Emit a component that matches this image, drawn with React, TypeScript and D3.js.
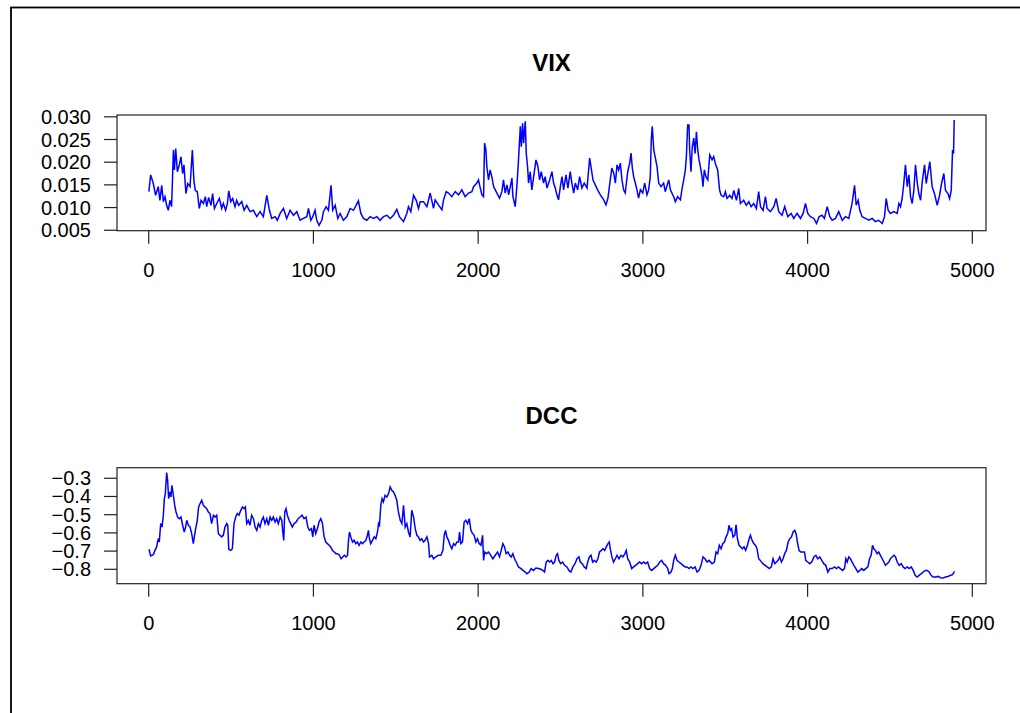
import * as d3 from "d3";

const xTicks = [0, 1000, 2000, 3000, 4000, 5000];
const vixTicks = [0.005, 0.01, 0.015, 0.02, 0.025, 0.03];
const dccTicks = [-0.8, -0.7, -0.6, -0.5, -0.4, -0.3];

const vix: [number, number][] = [
  [1, 0.0135], [12, 0.0172], [28, 0.0153], [42, 0.0127], [58, 0.0146], [68, 0.0116], [79, 0.0149],
  [89, 0.0113], [99, 0.0124], [109, 0.0105], [119, 0.0094], [129, 0.0116], [139, 0.0102], [143, 0.0146],
  [150, 0.0227], [156, 0.0183], [164, 0.023], [174, 0.0179], [186, 0.0194], [196, 0.0212], [206, 0.0175],
  [214, 0.0194], [226, 0.0131], [237, 0.0153], [251, 0.0146], [265, 0.0227], [275, 0.0157], [283, 0.0138],
  [295, 0.0135], [307, 0.0098], [318, 0.0116], [332, 0.0109], [344, 0.0124], [352, 0.0102], [364, 0.0122],
  [378, 0.0105], [388, 0.0131], [399, 0.0098], [413, 0.0109], [429, 0.012], [443, 0.0098], [453, 0.0109],
  [467, 0.0094], [478, 0.0109], [486, 0.0137], [498, 0.0113], [510, 0.012], [524, 0.0102], [534, 0.0116],
  [546, 0.0105], [565, 0.0113], [579, 0.0094], [595, 0.0105], [615, 0.0091], [636, 0.0094], [656, 0.008],
  [676, 0.0091], [696, 0.008], [717, 0.0127], [733, 0.0094], [747, 0.0076], [767, 0.008], [781, 0.0072],
  [798, 0.0087], [818, 0.0098], [838, 0.0076], [858, 0.0094], [879, 0.0083], [899, 0.0091], [919, 0.0072],
  [939, 0.0076], [960, 0.008], [970, 0.0098], [984, 0.0072], [996, 0.008], [1010, 0.0094], [1020, 0.0072],
  [1034, 0.0061], [1051, 0.0072], [1061, 0.0091], [1077, 0.0102], [1091, 0.0094], [1107, 0.0149],
  [1117, 0.0094], [1132, 0.0105], [1148, 0.0076], [1162, 0.0087], [1182, 0.0072], [1203, 0.008],
  [1223, 0.0098], [1243, 0.0094], [1259, 0.0105], [1273, 0.0115], [1288, 0.0087], [1304, 0.0076],
  [1324, 0.0072], [1344, 0.008], [1365, 0.0076], [1385, 0.008], [1405, 0.0072], [1425, 0.008],
  [1446, 0.0083], [1466, 0.0076], [1486, 0.0083], [1506, 0.0096], [1522, 0.008], [1547, 0.0069],
  [1567, 0.0087], [1577, 0.0102], [1591, 0.0091], [1608, 0.0127], [1624, 0.0116], [1638, 0.0098],
  [1648, 0.0113], [1668, 0.0113], [1689, 0.0102], [1709, 0.0132], [1729, 0.0098], [1739, 0.0117],
  [1759, 0.0106], [1780, 0.0095], [1790, 0.0117], [1806, 0.0135], [1820, 0.0132], [1840, 0.0124],
  [1861, 0.0135], [1881, 0.0128], [1901, 0.0139], [1921, 0.0124], [1942, 0.0132], [1962, 0.0135],
  [1972, 0.0146], [1992, 0.0154], [2002, 0.0161], [2013, 0.0143], [2023, 0.0128], [2033, 0.0124],
  [2039, 0.0242], [2047, 0.0227], [2053, 0.019], [2063, 0.0161], [2073, 0.0183], [2083, 0.0168],
  [2094, 0.0146], [2104, 0.0139], [2114, 0.0132], [2130, 0.0121], [2144, 0.0135], [2154, 0.0161],
  [2164, 0.0132], [2175, 0.015], [2185, 0.0128], [2195, 0.0146], [2205, 0.0165], [2211, 0.0124],
  [2225, 0.0102], [2235, 0.0146], [2245, 0.0205], [2256, 0.0279], [2262, 0.0234], [2270, 0.0286],
  [2276, 0.0242], [2286, 0.029], [2292, 0.022], [2300, 0.019], [2306, 0.0154], [2316, 0.0179],
  [2326, 0.0139], [2337, 0.0168], [2351, 0.0205], [2363, 0.019], [2373, 0.0161], [2383, 0.0179],
  [2397, 0.0154], [2407, 0.0168], [2418, 0.0143], [2434, 0.0161], [2448, 0.0179], [2458, 0.0154],
  [2468, 0.0143], [2478, 0.0128], [2488, 0.0117], [2499, 0.0146], [2509, 0.0168], [2519, 0.0139],
  [2533, 0.0172], [2545, 0.0143], [2559, 0.0179], [2569, 0.0154], [2580, 0.0132], [2590, 0.0154],
  [2604, 0.0139], [2616, 0.0168], [2630, 0.0143], [2644, 0.0154], [2661, 0.0143], [2677, 0.0209],
  [2685, 0.019], [2697, 0.0161], [2711, 0.015], [2725, 0.0139], [2742, 0.0128], [2762, 0.0117],
  [2776, 0.0106], [2788, 0.0121], [2802, 0.0161], [2812, 0.0187], [2823, 0.0176], [2833, 0.0154],
  [2843, 0.0194], [2853, 0.0183], [2863, 0.0198], [2873, 0.0161], [2883, 0.0139], [2893, 0.0132],
  [2908, 0.0179], [2920, 0.0198], [2928, 0.022], [2936, 0.0187], [2944, 0.0168], [2954, 0.0154],
  [2964, 0.0139], [2974, 0.0121], [2985, 0.0139], [2999, 0.0132], [3011, 0.0154], [3025, 0.0128],
  [3035, 0.0139], [3045, 0.0168], [3051, 0.0249], [3057, 0.0279], [3066, 0.0227], [3076, 0.0209],
  [3086, 0.019], [3096, 0.0154], [3110, 0.0146], [3126, 0.0154], [3136, 0.0135], [3157, 0.0161],
  [3167, 0.0139], [3187, 0.0124], [3197, 0.0113], [3211, 0.0124], [3228, 0.0117], [3238, 0.0142],
  [3248, 0.0161], [3258, 0.0183], [3264, 0.0212], [3272, 0.0282], [3280, 0.0282], [3284, 0.0227],
  [3292, 0.0179], [3300, 0.0234], [3309, 0.0253], [3317, 0.0219], [3325, 0.0267], [3333, 0.0227],
  [3341, 0.0205], [3349, 0.019], [3359, 0.0168], [3365, 0.0146], [3373, 0.0183], [3383, 0.0168],
  [3394, 0.0161], [3406, 0.0216], [3420, 0.0205], [3430, 0.0212], [3440, 0.0197], [3454, 0.0183],
  [3466, 0.0138], [3475, 0.0127], [3491, 0.0124], [3501, 0.0135], [3511, 0.012], [3527, 0.0127],
  [3541, 0.012], [3552, 0.0138], [3568, 0.0116], [3582, 0.0142], [3592, 0.0109], [3612, 0.0116],
  [3628, 0.0105], [3643, 0.0113], [3657, 0.0102], [3673, 0.0109], [3689, 0.0098], [3703, 0.0135],
  [3714, 0.0102], [3730, 0.0094], [3744, 0.0124], [3754, 0.0098], [3774, 0.0091], [3795, 0.0102],
  [3809, 0.012], [3825, 0.0091], [3845, 0.0083], [3861, 0.0102], [3880, 0.008], [3900, 0.0087],
  [3916, 0.0076], [3936, 0.0087], [3957, 0.0076], [3973, 0.0087], [3987, 0.0109], [4001, 0.0087],
  [4017, 0.008], [4038, 0.0076], [4054, 0.0065], [4070, 0.008], [4088, 0.0083], [4102, 0.0076],
  [4119, 0.0102], [4135, 0.008], [4149, 0.0072], [4169, 0.0076], [4189, 0.0091], [4210, 0.0072],
  [4230, 0.008], [4250, 0.0076], [4270, 0.0109], [4285, 0.0149], [4295, 0.0105], [4307, 0.0116],
  [4317, 0.0094], [4331, 0.008], [4351, 0.0076], [4372, 0.0072], [4392, 0.0076], [4412, 0.0069],
  [4432, 0.0072], [4453, 0.0065], [4467, 0.008], [4477, 0.012], [4489, 0.0094], [4503, 0.0087],
  [4523, 0.0091], [4544, 0.0087], [4554, 0.0109], [4564, 0.0102], [4574, 0.012], [4584, 0.0153],
  [4594, 0.0194], [4605, 0.0146], [4615, 0.0172], [4625, 0.0124], [4635, 0.0109], [4645, 0.0138],
  [4655, 0.0194], [4665, 0.0157], [4675, 0.0131], [4686, 0.0116], [4696, 0.0157], [4710, 0.0194],
  [4720, 0.0153], [4730, 0.0175], [4742, 0.0201], [4756, 0.0146], [4770, 0.0131], [4787, 0.0105],
  [4801, 0.0127], [4813, 0.0153], [4827, 0.0175], [4837, 0.0138], [4852, 0.0131], [4862, 0.012],
  [4872, 0.0138], [4880, 0.0227], [4886, 0.0219], [4890, 0.0293],
];

const dcc: [number, number][] = [
  [2, -0.69], [12, -0.727], [28, -0.72], [38, -0.696], [48, -0.677], [58, -0.632], [64, -0.65],
  [73, -0.549], [81, -0.568], [89, -0.503], [95, -0.412], [101, -0.384], [109, -0.269], [115, -0.311],
  [121, -0.412], [129, -0.375], [135, -0.403], [141, -0.339], [150, -0.394], [158, -0.449], [166, -0.485],
  [176, -0.513], [186, -0.522], [196, -0.513], [206, -0.558], [216, -0.595], [224, -0.568], [231, -0.531],
  [241, -0.558], [251, -0.568], [261, -0.604], [271, -0.659], [277, -0.622], [285, -0.577], [295, -0.531],
  [303, -0.458], [312, -0.439], [322, -0.421], [332, -0.449], [342, -0.458], [352, -0.467], [362, -0.485],
  [372, -0.494], [382, -0.549], [393, -0.503], [403, -0.513], [413, -0.503], [423, -0.604], [433, -0.613],
  [443, -0.622], [453, -0.613], [463, -0.568], [474, -0.549], [480, -0.558], [486, -0.69], [498, -0.696],
  [508, -0.687], [518, -0.549], [528, -0.513], [538, -0.494], [548, -0.503], [559, -0.476], [569, -0.458],
  [579, -0.467], [587, -0.458], [595, -0.549], [605, -0.531], [615, -0.558], [625, -0.503], [636, -0.522],
  [646, -0.568], [656, -0.586], [666, -0.549], [676, -0.568], [686, -0.531], [696, -0.513], [706, -0.549],
  [717, -0.522], [727, -0.558], [737, -0.513], [747, -0.531], [757, -0.513], [767, -0.54], [777, -0.522],
  [787, -0.549], [798, -0.513], [808, -0.531], [814, -0.595], [820, -0.641], [826, -0.485], [834, -0.467],
  [842, -0.503], [852, -0.531], [862, -0.549], [872, -0.568], [883, -0.549], [895, -0.54], [907, -0.522],
  [919, -0.513], [931, -0.503], [943, -0.522], [955, -0.513], [966, -0.568], [976, -0.586], [988, -0.577],
  [996, -0.622], [1004, -0.558], [1014, -0.604], [1024, -0.577], [1034, -0.54], [1045, -0.522],
  [1055, -0.549], [1065, -0.622], [1075, -0.65], [1085, -0.659], [1095, -0.668], [1105, -0.677],
  [1115, -0.696], [1126, -0.705], [1136, -0.714], [1146, -0.714], [1158, -0.723], [1168, -0.742],
  [1178, -0.732], [1188, -0.723], [1198, -0.732], [1207, -0.723], [1213, -0.641], [1219, -0.595],
  [1227, -0.622], [1237, -0.65], [1247, -0.641], [1257, -0.659], [1267, -0.65], [1277, -0.668],
  [1288, -0.65], [1298, -0.659], [1308, -0.65], [1318, -0.641], [1328, -0.613], [1334, -0.586],
  [1340, -0.632], [1348, -0.659], [1358, -0.641], [1369, -0.622], [1379, -0.632], [1389, -0.595],
  [1395, -0.549], [1401, -0.558], [1409, -0.449], [1417, -0.412], [1425, -0.43], [1435, -0.394],
  [1446, -0.403], [1456, -0.384], [1466, -0.348], [1476, -0.366], [1486, -0.375], [1496, -0.394],
  [1506, -0.421], [1516, -0.485], [1527, -0.531], [1537, -0.549], [1547, -0.449], [1557, -0.568],
  [1567, -0.549], [1577, -0.595], [1587, -0.622], [1597, -0.476], [1608, -0.513], [1618, -0.577],
  [1628, -0.613], [1638, -0.622], [1648, -0.641], [1658, -0.632], [1668, -0.65], [1678, -0.641],
  [1689, -0.622], [1699, -0.659], [1705, -0.732], [1719, -0.723], [1729, -0.742], [1743, -0.732],
  [1759, -0.723], [1774, -0.723], [1786, -0.696], [1794, -0.613], [1802, -0.586], [1810, -0.622],
  [1820, -0.641], [1830, -0.668], [1840, -0.687], [1851, -0.659], [1861, -0.668], [1871, -0.65],
  [1881, -0.65], [1887, -0.595], [1895, -0.659], [1905, -0.65], [1915, -0.54], [1925, -0.531],
  [1936, -0.549], [1946, -0.522], [1956, -0.586], [1966, -0.604], [1976, -0.613], [1986, -0.65],
  [1996, -0.632], [2006, -0.659], [2017, -0.668], [2027, -0.613], [2033, -0.751], [2039, -0.705],
  [2049, -0.714], [2063, -0.705], [2077, -0.723], [2089, -0.742], [2104, -0.723], [2118, -0.705],
  [2130, -0.732], [2140, -0.696], [2150, -0.659], [2160, -0.677], [2170, -0.714], [2181, -0.705],
  [2191, -0.723], [2201, -0.732], [2211, -0.714], [2221, -0.742], [2231, -0.76], [2245, -0.787],
  [2260, -0.796], [2272, -0.806], [2286, -0.815], [2296, -0.824], [2310, -0.815], [2322, -0.796],
  [2336, -0.806], [2351, -0.793], [2367, -0.796], [2381, -0.8], [2393, -0.806], [2403, -0.815],
  [2413, -0.76], [2424, -0.751], [2434, -0.76], [2444, -0.751], [2454, -0.769], [2464, -0.76],
  [2474, -0.723], [2482, -0.714], [2490, -0.751], [2501, -0.769], [2513, -0.76], [2525, -0.778],
  [2539, -0.787], [2551, -0.806], [2563, -0.815], [2575, -0.787], [2588, -0.769], [2600, -0.742],
  [2612, -0.732], [2620, -0.76], [2632, -0.769], [2644, -0.787], [2656, -0.796], [2665, -0.76],
  [2675, -0.732], [2685, -0.723], [2695, -0.76], [2705, -0.751], [2717, -0.76], [2727, -0.742],
  [2737, -0.705], [2748, -0.696], [2758, -0.687], [2768, -0.696], [2778, -0.677], [2788, -0.659],
  [2796, -0.65], [2802, -0.687], [2812, -0.732], [2822, -0.76], [2833, -0.742], [2843, -0.723],
  [2855, -0.742], [2867, -0.723], [2879, -0.732], [2891, -0.714], [2899, -0.696], [2908, -0.742],
  [2920, -0.76], [2932, -0.796], [2944, -0.787], [2956, -0.778], [2968, -0.769], [2980, -0.76],
  [2993, -0.769], [3005, -0.76], [3017, -0.769], [3029, -0.76], [3041, -0.796], [3053, -0.806],
  [3066, -0.796], [3078, -0.787], [3090, -0.778], [3102, -0.76], [3114, -0.751], [3126, -0.769],
  [3138, -0.778], [3151, -0.796], [3159, -0.824], [3171, -0.815], [3179, -0.796], [3187, -0.751],
  [3197, -0.723], [3207, -0.751], [3219, -0.76], [3232, -0.769], [3244, -0.778], [3256, -0.787],
  [3268, -0.787], [3280, -0.796], [3292, -0.787], [3304, -0.796], [3317, -0.787], [3329, -0.815],
  [3341, -0.806], [3353, -0.778], [3365, -0.732], [3377, -0.742], [3390, -0.76], [3402, -0.751],
  [3420, -0.769], [3434, -0.76], [3444, -0.705], [3454, -0.714], [3464, -0.668], [3475, -0.687],
  [3485, -0.659], [3495, -0.65], [3505, -0.622], [3515, -0.604], [3523, -0.558], [3531, -0.586],
  [3539, -0.577], [3547, -0.622], [3558, -0.613], [3566, -0.555], [3574, -0.632], [3584, -0.668],
  [3594, -0.677], [3604, -0.687], [3614, -0.677], [3624, -0.696], [3635, -0.668], [3645, -0.632],
  [3653, -0.613], [3663, -0.641], [3673, -0.659], [3683, -0.668], [3693, -0.687], [3703, -0.742],
  [3713, -0.751], [3728, -0.769], [3742, -0.778], [3754, -0.787], [3768, -0.796], [3780, -0.787],
  [3790, -0.742], [3801, -0.769], [3811, -0.76], [3821, -0.751], [3831, -0.732], [3841, -0.76],
  [3851, -0.742], [3861, -0.714], [3871, -0.696], [3882, -0.65], [3892, -0.632], [3902, -0.622],
  [3912, -0.595], [3922, -0.586], [3930, -0.604], [3938, -0.65], [3948, -0.696], [3958, -0.705],
  [3971, -0.705], [3981, -0.705], [3989, -0.751], [4001, -0.76], [4013, -0.769], [4025, -0.76],
  [4038, -0.732], [4050, -0.723], [4062, -0.742], [4074, -0.732], [4086, -0.751], [4098, -0.769],
  [4110, -0.778], [4123, -0.815], [4135, -0.796], [4149, -0.796], [4163, -0.787], [4175, -0.796],
  [4187, -0.787], [4199, -0.796], [4212, -0.806], [4224, -0.796], [4232, -0.742], [4240, -0.76],
  [4250, -0.732], [4260, -0.742], [4270, -0.76], [4281, -0.778], [4293, -0.796], [4305, -0.815],
  [4317, -0.806], [4329, -0.796], [4341, -0.806], [4353, -0.796], [4366, -0.787], [4376, -0.742],
  [4386, -0.723], [4394, -0.668], [4402, -0.687], [4412, -0.696], [4422, -0.714], [4432, -0.705],
  [4442, -0.723], [4453, -0.742], [4463, -0.76], [4473, -0.778], [4483, -0.769], [4493, -0.76],
  [4503, -0.742], [4513, -0.732], [4524, -0.723], [4534, -0.732], [4544, -0.76], [4556, -0.778],
  [4568, -0.769], [4580, -0.787], [4592, -0.796], [4605, -0.787], [4617, -0.796], [4629, -0.787],
  [4641, -0.806], [4653, -0.833], [4665, -0.842], [4677, -0.833], [4690, -0.824], [4702, -0.815],
  [4714, -0.806], [4726, -0.806], [4738, -0.815], [4750, -0.833], [4762, -0.842], [4777, -0.842],
  [4791, -0.839], [4807, -0.846], [4823, -0.848], [4837, -0.842], [4852, -0.839], [4868, -0.833],
  [4880, -0.829], [4892, -0.811],
];

const W = 1020;
const H = 713;
const left = 117;
const right = 986;
const font = "'Liberation Sans', Arial, Helvetica, sans-serif";

const x = d3.scaleLinear().domain([-192.4, 5083]).range([left, right]);

interface PanelProps {
  title: string;
  data: [number, number][];
  ticks: number[];
  fmt: (n: number) => string;
  domain: [number, number];
  top: number;
  bottom: number;
}

function Panel({ title, data, ticks, fmt, domain, top, bottom }: PanelProps) {
  const y = d3.scaleLinear().domain(domain).range([bottom, top]);
  const line = d3
    .line<[number, number]>()
    .x((d) => x(d[0]))
    .y((d) => y(d[1]));

  return (
    <g>
      <text
        x={(left + right) / 2}
        y={top - 44}
        textAnchor="middle"
        fontFamily={font}
        fontWeight="bold"
        fontSize={24}
      >
        {title}
      </text>
      <path d={line(data) ?? ""} fill="none" stroke="#0000ff" strokeWidth={1.5} />
      <rect
        x={left}
        y={top}
        width={right - left}
        height={bottom - top}
        fill="none"
        stroke="#222"
        strokeWidth={1.2}
      />
      {ticks.map((t) => (
        <g key={t}>
          <line x1={left - 13} x2={left} y1={y(t)} y2={y(t)} stroke="#222" strokeWidth={1.2} />
          <text x={91} y={y(t) + 7} textAnchor="end" fontFamily={font} fontSize={20}>
            {fmt(t)}
          </text>
        </g>
      ))}
      {xTicks.map((t) => (
        <g key={t}>
          <line x1={x(t)} x2={x(t)} y1={bottom} y2={bottom + 13} stroke="#222" strokeWidth={1.2} />
          <text x={x(t)} y={bottom + 46} textAnchor="middle" fontFamily={font} fontSize={20}>
            {t}
          </text>
        </g>
      ))}
    </g>
  );
}

export default function App() {
  return (
    <div style={{ position: "fixed", left: 0, top: 0 }}>
      <svg width={W} height={H} style={{ display: "block", background: "white" }}>
        <rect x={11} y={7.5} width={W + 50} height={H + 50} fill="none" stroke="black" strokeWidth={1.8} />
        <Panel
          title="VIX"
          data={vix}
          ticks={vixTicks}
          fmt={d3.format(".3f")}
          domain={[0.0049, 0.0304]}
          top={115}
          bottom={230.7}
        />
        <Panel
          title="DCC"
          data={dcc}
          ticks={dccTicks}
          fmt={d3.format(".1f")}
          domain={[-0.879, -0.242]}
          top={467.7}
          bottom={583.7}
        />
      </svg>
    </div>
  );
}
